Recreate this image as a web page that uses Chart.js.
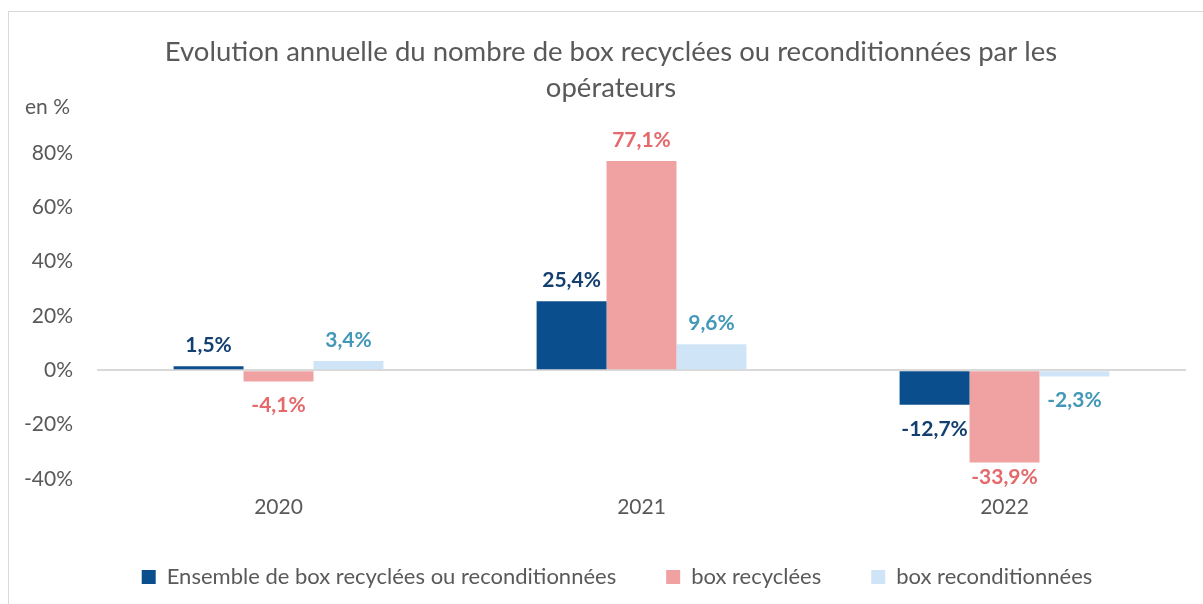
<!DOCTYPE html>
<html>
<head>
<meta charset="utf-8">
<script src="https://cdn.jsdelivr.net/npm/chart.js@4.4.0/dist/chart.umd.min.js"></script>
<style>
  html, body { margin: 0; padding: 0; background: #fff; overflow: hidden; }
  #wrap { position: relative; width: 1203px; height: 604px; }
  #frame { position: absolute; left: 8px; top: 11px; width: 1210px; height: 620px; border: 1px solid #d9d9d9; box-sizing: border-box; }
  canvas { position: absolute; left: 0; top: 0; }
</style>
</head>
<body>
<div id="wrap">
  <div id="frame"></div>
  <canvas id="c" width="1203" height="604"></canvas>
</div>
<script>
const categories = ["2020", "2021", "2022"];
const seriesNames = ["Ensemble de box recyclées ou reconditionnées", "box recyclées", "box reconditionnées"];
const ensembleValues = [1.5, 25.4, -12.7];
const recycleesValues = [-4.1, 77.1, -33.9];
const reconditionneesValues = [3.4, 9.6, -2.3];
const yTicks = [-40, -20, 0, 20, 40, 60, 80];
const titleLines = ["Evolution annuelle du nombre de box recyclées ou reconditionnées par les", "opérateurs"];
const unitLabel = "en %";

const barColors = ["#0b4e8e", "#f0a2a2", "#cfe4f6"];
const labelColors = ["#123f70", "#e5686b", "#4398b7"];
const FONT = "Lato, 'Open Sans', sans-serif";

function fmt(v) { return v.toFixed(1).replace('.', ',') + '%'; }

const labelPlugin = {
  id: 'barLabels',
  afterDatasetsDraw(chart) {
    const ctx = chart.ctx;
    ctx.save();
    ctx.font = "bold 21px " + FONT;
    ctx.textAlign = 'center';
    ctx.textBaseline = 'middle';
    chart.data.datasets.forEach((ds, di) => {
      const meta = chart.getDatasetMeta(di);
      meta.data.forEach((bar, i) => {
        const v = ds.data[i];
        let y = v >= 0 ? bar.y - 21 : bar.y + 24;
        y = Math.min(y, chart.chartArea.bottom - 2);
        ctx.fillStyle = labelColors[di];
        ctx.fillText(fmt(v), bar.x, y);
      });
    });
    ctx.restore();
  }
};

const unitPlugin = {
  id: 'unitText',
  afterLayout(chart) {
    // shift title and legend centres to match the original layout
    if (chart.titleBlock) chart.titleBlock.left += 28;
    if (chart.legend) chart.legend.left += 40;
  },
  afterDraw(chart) {
    const ctx = chart.ctx;
    ctx.save();
    ctx.font = "21px " + FONT;
    ctx.fillStyle = '#595959';
    ctx.textAlign = 'left';
    ctx.textBaseline = 'middle';
    ctx.fillText(unitLabel, 25, 107);
    ctx.restore();
  }
};

const values = [ensembleValues, recycleesValues, reconditionneesValues];

new Chart(document.getElementById('c'), {
  type: 'bar',
  data: {
    labels: categories,
    datasets: seriesNames.map((name, i) => ({
      label: name,
      data: values[i],
      backgroundColor: barColors[i],
      borderWidth: 0,
      categoryPercentage: 0.578,
      barPercentage: 1.0
    }))
  },
  options: {
    responsive: false,
    animation: false,
    devicePixelRatio: 1,
    layout: { padding: { left: 8, right: 17, top: 34, bottom: 6 } },
    plugins: {
      tooltip: { enabled: false },
      title: {
        display: true,
        text: titleLines,
        color: '#595959',
        font: { family: FONT, size: 27.5, weight: 'normal', lineHeight: 1.31 },
        padding: { top: 0, bottom: 47 }
      },
      legend: {
        display: true,
        position: 'bottom',
        labels: {
          color: '#595959',
          font: { family: FONT, size: 22 },
          boxWidth: 14,
          boxHeight: 14,
          padding: 50
        }
      }
    },
    scales: {
      x: {
        grid: { display: false, drawTicks: false },
        border: { display: false },
        ticks: { color: '#595959', font: { family: FONT, size: 21 }, padding: 16 },
        afterFit(scale) { scale.height = 37; }
      },
      y: {
        min: -40, max: 80,
        afterBuildTicks(scale) { scale.ticks = yTicks.map(v => ({ value: v })); },
        grid: {
          drawTicks: false,
          lineWidth: 2,
          color: ctx => (ctx.tick && ctx.tick.value === 0) ? '#d9d9d9' : 'rgba(0,0,0,0)'
        },
        border: { display: false },
        ticks: {
          color: '#595959',
          font: { family: FONT, size: 21 },
          padding: 24,
          callback: v => v + '%'
        },
        afterFit(scale) { scale.width = 89; }
      }
    }
  },
  plugins: [labelPlugin, unitPlugin]
});
</script>
</body>
</html>
